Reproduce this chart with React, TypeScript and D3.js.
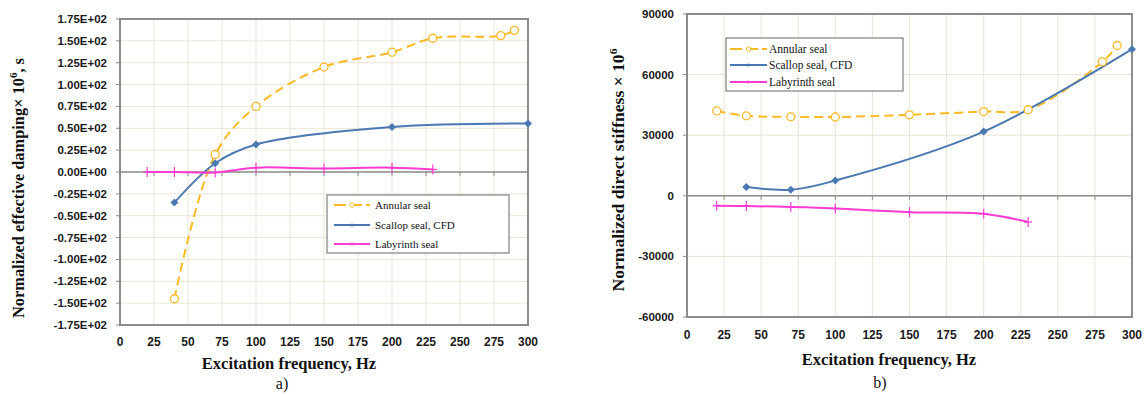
import * as d3 from 'd3'

// ---- data: panel a) effective damping ----
const dampAnnularX = [40, 70, 100, 150, 200, 230, 280, 290]
const dampAnnularY = [-145, 20, 75, 120, 137, 153, 156, 162]
const dampScallopX = [40, 70, 100, 200, 300]
const dampScallopY = [-35, 10, 31.5, 51.5, 55.5]
const dampLabX = [20, 40, 70, 100, 150, 200, 230]
const dampLabY = [0, 0, -0.5, 5, 4, 5, 3]

// ---- data: panel b) direct stiffness ----
const stiffAnnularX = [20, 40, 70, 100, 150, 200, 230, 280, 290]
const stiffAnnularY = [42000, 39600, 39100, 39000, 40100, 41700, 42600, 66300, 74400]
const stiffScallopX = [40, 70, 100, 200, 300]
const stiffScallopY = [4300, 3000, 7600, 31800, 72600]
const stiffLabX = [20, 40, 70, 100, 150, 200, 230]
const stiffLabY = [-4950, -5100, -5500, -6300, -8100, -8900, -13000]

const xTicks = [0, 25, 50, 75, 100, 125, 150, 175, 200, 225, 250, 275, 300]
const dampTicks = [175, 150, 125, 100, 75, 50, 25, 0, -25, -50, -75, -100, -125, -150, -175]
const stiffTicks = [90000, 60000, 30000, 0, -30000, -60000]
const seriesNames = ['Annular seal', 'Scallop seal, CFD', 'Labyrinth seal']

const COLORS = { annular: '#FBB925', scallop: '#4A78B0', lab: '#FF3CD2' }
const GRID = '#E9E5D3'
const FRAME = '#8C8C8C'
const SERIF = 'Liberation Serif, Times New Roman, serif'
const SANS = 'Liberation Sans, Arial, sans-serif'

const zip = (xs: number[], ys: number[]) => xs.map((x, i) => ({ x, y: ys[i] }))

const fmtDamp = (v: number) => (v === 0 ? '0.00E+00' : `${(v / 100).toFixed(2)}E+02`)

function Marker({ kind, x, y }: { kind: string; x: number; y: number }) {
  if (kind === 'annular')
    return <circle cx={x} cy={y} r={4} fill="white" stroke={COLORS.annular} strokeWidth={1.3} />
  if (kind === 'scallop')
    return <path d={`M${x},${y - 4}L${x + 4},${y}L${x},${y + 4}L${x - 4},${y}Z`} fill={COLORS.scallop} />
  return (
    <g stroke={COLORS.lab} strokeWidth={1.2}>
      <line x1={x} x2={x} y1={y - 5} y2={y + 5} />
      <line x1={x - 4} x2={x + 4} y1={y} y2={y} />
    </g>
  )
}

type Panel = {
  left: number; right: number; top: number; bottom: number
  yDomain: [number, number]
  yTicks: number[]
  fmt: (v: number) => string
  series: { kind: string; pts: { x: number; y: number }[] }[]
  legend: { x: number; y: number; w: number; h: number; rows: number[]; lx: number; lw: number; tx: number; fs: number }
  yTitle: string
  ySuffix: string
  yTitleX: number
  yTitleY: number
  yTitleLen: number
  xLabelY: number
  xTitleX: number
  xTitleY: number
  caption: string
  captionX: number
  captionY: number
}

function Chart({ p }: { p: Panel }) {
  const x = d3.scaleLinear().domain([0, 300]).range([p.left, p.right])
  const y = d3.scaleLinear().domain(p.yDomain).range([p.bottom, p.top])
  const line = d3.line<{ x: number; y: number }>()
    .x(d => x(d.x)).y(d => y(d.y))
    .curve(d3.curveCatmullRom.alpha(0.5))
  const y0 = y(0)
  return (
    <g>
      {xTicks.map(t => (
        <line key={'gx' + t} x1={x(t)} x2={x(t)} y1={p.top} y2={p.bottom} stroke={GRID} strokeWidth={1} />
      ))}
      {p.yTicks.map(t => (
        <line key={'gy' + t} x1={p.left} x2={p.right} y1={y(t)} y2={y(t)} stroke={GRID} strokeWidth={1} />
      ))}
      <rect x={p.left} y={p.top} width={p.right - p.left} height={p.bottom - p.top}
        fill="none" stroke={FRAME} strokeWidth={2} />
      <line x1={p.left} x2={p.right} y1={y0} y2={y0} stroke={FRAME} strokeWidth={1.5} />
      {xTicks.map(t => (
        <line key={'tx' + t} x1={x(t)} x2={x(t)} y1={y0} y2={y0 + 4} stroke={FRAME} strokeWidth={1} />
      ))}
      {p.yTicks.map(t => (
        <line key={'ty' + t} x1={p.left - 4} x2={p.left} y1={y(t)} y2={y(t)} stroke={FRAME} strokeWidth={1} />
      ))}
      {p.yTicks.map(t => (
        <text key={'ly' + t} x={p.left - 13} y={y(t)} dy="0.35em" textAnchor="end"
          fontFamily={SANS} fontWeight="bold" fontSize={11.5} fill="#1a1a1a">
          {p.fmt(t)}
        </text>
      ))}
      {xTicks.map(t => (
        <text key={'lx' + t} x={x(t)} y={p.xLabelY} dy="0.35em" textAnchor="middle"
          fontFamily={SANS} fontWeight="bold" fontSize={12} fill="#1a1a1a">
          {t}
        </text>
      ))}
      {p.series.map(s => (
        <path key={s.kind} d={line(s.pts) || ''} fill="none" stroke={COLORS[s.kind as keyof typeof COLORS]}
          strokeWidth={2} strokeDasharray={s.kind === 'annular' ? '9,5' : undefined} />
      ))}
      {p.series.map(s => s.pts.map((d, i) => (
        <Marker key={s.kind + i} kind={s.kind} x={x(d.x)} y={y(d.y)} />
      )))}
      <rect x={p.legend.x} y={p.legend.y} width={p.legend.w} height={p.legend.h}
        fill="white" stroke="#808080" strokeWidth={1.2} />
      {seriesNames.map((name, i) => {
        const kind = ['annular', 'scallop', 'lab'][i]
        const ry = p.legend.rows[i]
        const c = COLORS[kind as keyof typeof COLORS]
        return (
          <g key={name}>
            <line x1={p.legend.lx} x2={p.legend.lx + p.legend.lw} y1={ry} y2={ry} stroke={c} strokeWidth={2}
              strokeDasharray={kind === 'annular' ? '12,4' : undefined} />
            {kind === 'annular' ? (
              <circle cx={p.legend.lx + p.legend.lw / 2} cy={ry} r={2.2} fill="white" stroke={c} strokeWidth={1} />
            ) : (
              <circle cx={p.legend.lx + p.legend.lw / 2} cy={ry} r={1.5} fill={c} />
            )}
            <text x={p.legend.tx} y={ry} dy="0.35em" fontFamily={SERIF}
              fontSize={p.legend.fs} fill="#111">{name}</text>
          </g>
        )
      })}
      <text x={p.xTitleX} y={p.xTitleY} dy="0.35em" textAnchor="middle"
        fontFamily={SERIF} fontWeight="bold" fontSize={16.5} fill="#111">
        Excitation frequency, Hz
      </text>
      <text transform={`translate(${p.yTitleX},${p.yTitleY}) rotate(-90)`} textAnchor="middle"
        textLength={p.yTitleLen} lengthAdjust="spacingAndGlyphs"
        fontFamily={SERIF} fontWeight="bold" fontSize={16.5} fill="#111">
        {p.yTitle}
        <tspan dy="-7" fontSize={11}>6</tspan>
        {p.ySuffix ? <tspan dy="7">{p.ySuffix}</tspan> : null}
      </text>
      <text x={p.captionX} y={p.captionY} dy="0.35em" textAnchor="middle"
        fontFamily={SERIF} fontSize={16} fill="#111">
        {p.caption}
      </text>
    </g>
  )
}

const panelA: Panel = {
  left: 120, right: 528, top: 19, bottom: 325,
  yDomain: [-175, 175], yTicks: dampTicks, fmt: fmtDamp,
  series: [
    { kind: 'annular', pts: zip(dampAnnularX, dampAnnularY) },
    { kind: 'scallop', pts: zip(dampScallopX, dampScallopY) },
    { kind: 'lab', pts: zip(dampLabX, dampLabY) },
  ],
  legend: { x: 327, y: 195, w: 182, h: 58, rows: [205, 225, 244], lx: 334, lw: 36, tx: 375, fs: 11 },
  yTitle: 'Normalized effective damping× 10', ySuffix: ', s',
  yTitleX: 24, yTitleY: 188, yTitleLen: 260,
  xLabelY: 342, xTitleX: 289, xTitleY: 363, caption: 'a)', captionX: 282, captionY: 383,
}

const panelB: Panel = {
  left: 687, right: 1132, top: 14, bottom: 317,
  yDomain: [-60000, 90000], yTicks: stiffTicks, fmt: (v: number) => String(v),
  series: [
    { kind: 'annular', pts: zip(stiffAnnularX, stiffAnnularY) },
    { kind: 'scallop', pts: zip(stiffScallopX, stiffScallopY) },
    { kind: 'lab', pts: zip(stiffLabX, stiffLabY) },
  ],
  legend: { x: 726, y: 38, w: 177, h: 53, rows: [49, 65, 82], lx: 730, lw: 37, tx: 769, fs: 11.5 },
  yTitle: 'Normalized direct stiffness × 10', ySuffix: '',
  yTitleX: 624, yTitleY: 170, yTitleLen: 243,
  xLabelY: 335, xTitleX: 889, xTitleY: 359, caption: 'b)', captionX: 880, captionY: 382,
}

export default function App() {
  return (
    <svg width={1145} height={396} style={{ position: 'absolute', left: 0, top: 0, background: 'white' }}>
      <Chart p={panelA} />
      <Chart p={panelB} />
    </svg>
  )
}
